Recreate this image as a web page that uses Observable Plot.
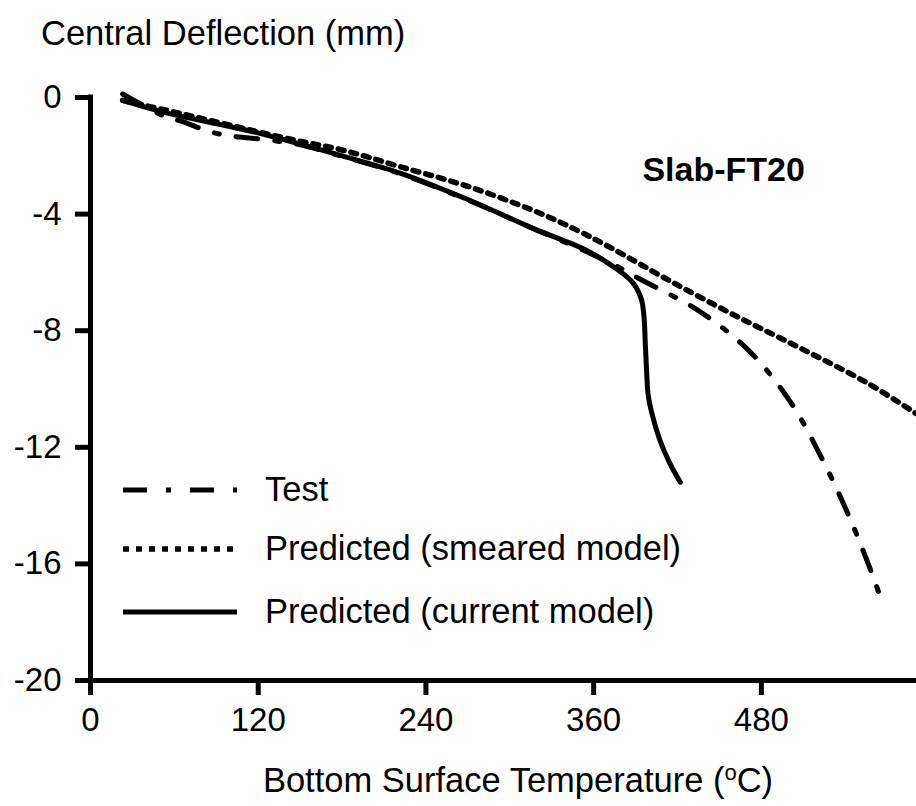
<!DOCTYPE html>
<html>
<head>
<meta charset="utf-8">
<script src="https://cdn.jsdelivr.net/npm/d3@7"></script>
<script src="https://cdn.jsdelivr.net/npm/@observablehq/plot@0.6"></script>
<style>
  html, body { margin: 0; padding: 0; background: #fff; }
  #chart { position: relative; width: 916px; height: 806px; }
  svg { font-family: "Liberation Sans", Arial, Helvetica, sans-serif; }
</style>
</head>
<body>
<div id="chart"></div>
<script>
// ---- Data ----
const xTicks = [0, 120, 240, 360, 480];
const yTicks = [0, -4, -8, -12, -16, -20];

const seriesNames = ["Test", "Predicted (smeared model)", "Predicted (current model)"];

// Test (dash-dot)
const testT = [23, 52, 68, 82, 97, 112, 129, 150, 180, 222, 270, 317, 353, 379, 392, 406, 435, 471, 501, 524, 544, 561, 566];
const testD = [0.12, -0.62, -0.86, -1.12, -1.3, -1.38, -1.47, -1.62, -2.02, -2.62, -3.52, -4.5, -5.25, -5.85, -6.2, -6.55, -7.31, -8.68, -10.46, -12.45, -14.51, -16.57, -17.28];

// Predicted (smeared model) (dotted)
const smearT = [23, 60, 100, 140, 180, 222, 270, 317, 348, 374, 413, 460, 508, 556, 591];
const smearD = [-0.1, -0.5, -0.95, -1.4, -1.8, -2.38, -3.05, -3.88, -4.55, -5.2, -6.25, -7.45, -8.6, -9.8, -10.85];

// Predicted (current model) (solid)
const currT = [23, 52, 93, 121, 150, 180, 222, 270, 317, 353, 377, 388, 394, 396, 397, 398, 399, 402, 407, 414, 422];
const currD = [-0.1, -0.5, -0.93, -1.23, -1.6, -2.0, -2.6, -3.5, -4.5, -5.2, -5.9, -6.35, -6.9, -7.5, -8.5, -9.5, -10.2, -10.9, -11.7, -12.5, -13.2];

const panelLabel = "Slab-FT20";
const yTitle = "Central Deflection (mm)";
const xTitleMain = "Bottom Surface Temperature (";
const xTitleSup = "o";
const xTitleEnd = "C)";

// ---- Build tables ----
const toRows = (T, D, name) => T.map((t, i) => ({t, d: D[i], name}));
const test = toRows(testT, testD, seriesNames[0]);
const smear = toRows(smearT, smearD, seriesNames[1]);
const curr = toRows(currT, currD, seriesNames[2]);

const styles = [
  {dash: "22,17,5,17", width: 5},
  {dash: "6,7", width: 5.5},
  {dash: null, width: 5}
];

const W = 916, H = 806;
const fontSize = 33;
const textSize = 34.5;

const plot = Plot.plot({
  width: W,
  height: H,
  marginLeft: 90,
  marginTop: 97,
  marginBottom: 126,
  marginRight: 0,
  style: {fontFamily: "'Liberation Sans', Arial, sans-serif", fontSize: fontSize + "px", color: "#000", background: "#fff", overflow: "visible"},
  x: {domain: [0, 591], label: null},
  y: {domain: [-20, 0], label: null},
  marks: [
    Plot.line(smear, {x: "t", y: "d", stroke: "#000", strokeWidth: styles[1].width, strokeDasharray: styles[1].dash, curve: "catmull-rom"}),
    Plot.line(curr, {x: "t", y: "d", stroke: "#000", strokeWidth: styles[2].width, curve: "catmull-rom"}),
    Plot.line(test, {x: "t", y: "d", stroke: "#000", strokeWidth: styles[0].width, strokeDasharray: styles[0].dash, curve: "catmull-rom"}),
    Plot.ruleX([0], {stroke: "#000", strokeWidth: 5, strokeLinecap: "square"}),
    Plot.ruleY([-20], {stroke: "#000", strokeWidth: 5, strokeLinecap: "square"}),
    Plot.axisX({ticks: xTicks, tickSize: 15, tickPadding: 12, strokeWidth: 5, tickFormat: d => `${d}`, fontSize: fontSize, label: null}),
    Plot.axisY({ticks: yTicks, tickSize: 15, tickPadding: 14, strokeWidth: 5, tickFormat: d => `${d}`, fontSize: fontSize, label: null}),
    Plot.text([panelLabel], {x: () => 453, y: () => -2.5, text: d => d, fontWeight: "bold", fontSize: 34, fill: "#000"})
  ]
});

document.getElementById("chart").appendChild(plot);

// ---- Titles and legend ----
const svg = d3.select(plot);

svg.append("text")
  .attr("x", 41).attr("y", 45)
  .attr("text-anchor", "start")
  .attr("font-size", textSize)
  .attr("fill", "#000")
  .text(yTitle);

const xt = svg.append("text")
  .attr("x", 518).attr("y", 792)
  .attr("text-anchor", "middle")
  .attr("font-size", textSize)
  .attr("fill", "#000");
xt.append("tspan").text(xTitleMain);
xt.append("tspan").attr("font-size", 22).attr("dy", -12).text(xTitleSup);
xt.append("tspan").attr("dy", 12).text(xTitleEnd);

const legendY = [490, 549, 612];
const lg = svg.append("g");
seriesNames.forEach((name, i) => {
  const ln = lg.append("line")
    .attr("x1", 123).attr("x2", 237)
    .attr("y1", legendY[i]).attr("y2", legendY[i])
    .attr("stroke", "#000")
    .attr("stroke-width", styles[i].width);
  if (styles[i].dash) ln.attr("stroke-dasharray", i === 0 ? "24,19,5,19" : styles[i].dash);
  lg.append("text")
    .attr("x", 265).attr("y", legendY[i])
    .attr("dy", "0.33em")
    .attr("text-anchor", "start")
    .attr("font-size", textSize)
    .attr("fill", "#000")
    .text(name);
});
</script>
</body>
</html>
